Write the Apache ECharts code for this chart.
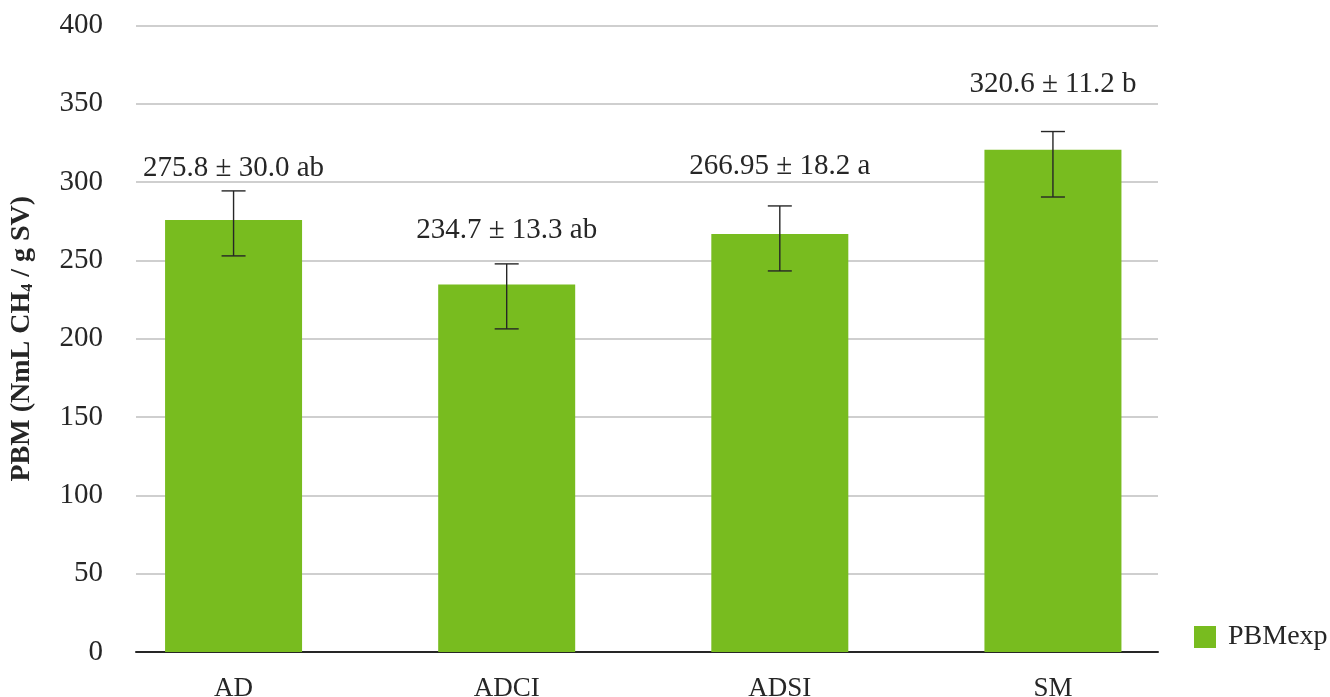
<!DOCTYPE html>
<html>
<head>
<meta charset="utf-8">
<script src="https://cdn.jsdelivr.net/npm/echarts@6/dist/echarts.min.js"></script>
<style>html,body{margin:0;padding:0;background:#fff}#c{width:1330px;height:697px}</style>
</head>
<body>
<div id="c"></div>
<script>
var categories = ['AD', 'ADCI', 'ADSI', 'SM'];
var pbmValues = [275.8, 234.7, 266.95, 320.6];
var errLow = [252.9, 206.3, 243.3, 290.5];
var errHigh = [294.4, 247.8, 284.8, 332.3];
var labelTexts = ['275.8 ± 30.0 ab', '234.7 ± 13.3 ab', '266.95 ± 18.2 a', '320.6 ± 11.2 b'];
var labelAt = [309, 269, 309.8, 362.5];
var yTicks = { min: 0, max: 400, interval: 50 };

var FONT = 'Liberation Serif';
var TXT = '#262626';
var chart = echarts.init(document.getElementById('c'), null, { renderer: 'canvas' });

var errData = categories.map(function (c, i) { return [i, errLow[i], errHigh[i]]; });
var lblData = categories.map(function (c, i) { return [i, labelAt[i]]; });

chart.setOption({
  animation: false,
  backgroundColor: '#fff',
  grid: [
    { left: 136, right: 172, top: 25.5, bottom: 45, containLabel: false, outerBoundsMode: 'none' },
    { left: 97, right: 140.5, top: 25.5, bottom: 45, containLabel: false, outerBoundsMode: 'none' }
  ],
  legend: {
    data: ['PBMexp'],
    orient: 'vertical',
    left: 1194, top: 623,
    padding: 0,
    itemWidth: 22, itemHeight: 22,
    icon: 'rect',
    textStyle: { fontFamily: FONT, fontSize: 28, color: TXT, padding: [2, 0, 0, 7] }
  },
  xAxis: [
    {
      gridIndex: 0, type: 'value', min: 0, max: 1,
      axisLine: { show: true, onZero: true, lineStyle: { color: TXT, width: 2 } },
      axisTick: { show: false }, axisLabel: { show: false }, splitLine: { show: false }
    },
    {
      gridIndex: 1, type: 'category', data: categories,
      axisLine: { show: false },
      axisTick: { show: false },
      axisLabel: { fontFamily: FONT, fontSize: 27, color: TXT, margin: 23 }
    }
  ],
  yAxis: [
    {
      gridIndex: 0, type: 'value',
      min: yTicks.min, max: yTicks.max, interval: yTicks.interval,
      axisLine: { show: false },
      axisTick: { show: false },
      axisLabel: { fontFamily: FONT, fontSize: 29, color: TXT, margin: 33, padding: [4, 0, 0, 0] },
      splitLine: { lineStyle: { color: '#BFBFBF', width: 1.5 } },
      name: 'PBM (NmL CH{sub|4} / g SV)',
      nameLocation: 'middle',
      nameRotate: 90,
      nameGap: 100,
      nameTextStyle: {
        fontFamily: FONT, fontSize: 28, fontWeight: 'bold', color: TXT,
        rich: { sub: { fontFamily: FONT, fontSize: 16, fontWeight: 'bold', color: TXT, verticalAlign: 'bottom', padding: [12, 0, 0, 0] } }
      }
    },
    {
      gridIndex: 1, type: 'value',
      min: yTicks.min, max: yTicks.max, interval: yTicks.interval,
      show: false, splitLine: { show: false }
    }
  ],
  series: [
    {
      name: 'PBMexp',
      type: 'bar',
      xAxisIndex: 1, yAxisIndex: 1,
      data: pbmValues,
      barWidth: 137,
      itemStyle: { color: '#78BC1F' },
      z: 2
    },
    {
      name: 'err',
      type: 'custom',
      xAxisIndex: 1, yAxisIndex: 1,
      data: errData,
      z: 5,
      renderItem: function (params, api) {
        var x = api.value(0);
        var lo = api.coord([x, api.value(1)]);
        var hi = api.coord([x, api.value(2)]);
        var w = 12;
        var st = { stroke: TXT, lineWidth: 1.4 };
        return {
          type: 'group',
          children: [
            { type: 'line', shape: { x1: hi[0], y1: hi[1], x2: lo[0], y2: lo[1] }, style: st },
            { type: 'line', shape: { x1: hi[0] - w, y1: hi[1], x2: hi[0] + w, y2: hi[1] }, style: st },
            { type: 'line', shape: { x1: lo[0] - w, y1: lo[1], x2: lo[0] + w, y2: lo[1] }, style: st }
          ]
        };
      }
    },
    {
      name: 'lbl',
      type: 'custom',
      xAxisIndex: 1, yAxisIndex: 1,
      data: lblData,
      z: 6,
      renderItem: function (params, api) {
        var p = api.coord([api.value(0), api.value(1)]);
        return {
          type: 'text',
          x: p[0], y: p[1],
          style: {
            text: labelTexts[params.dataIndex],
            fontFamily: FONT, fontSize: 29, fill: TXT,
            align: 'center', verticalAlign: 'middle'
          }
        };
      }
    }
  ]
});
</script>
</body>
</html>
